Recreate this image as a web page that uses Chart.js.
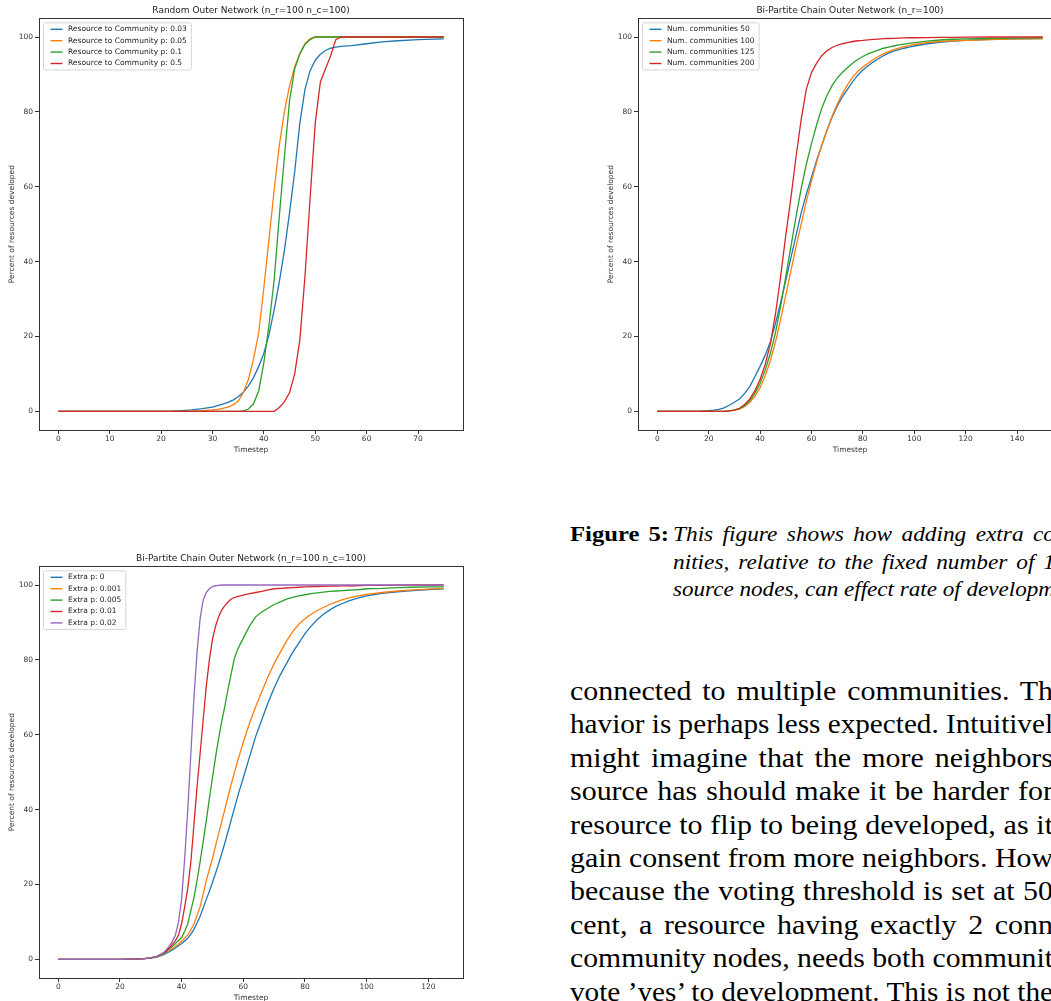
<!DOCTYPE html>
<html><head><meta charset="utf-8">
<script src="https://cdn.jsdelivr.net/npm/chart.js@4.4.0/dist/chart.umd.min.js"></script>
<style>
html,body{margin:0;padding:0;width:1051px;height:1001px;overflow:hidden;background:#fff;}
.cw{position:absolute;width:470px;height:460px;}
.cw canvas{display:block;}
.tl{position:absolute;font-family:"Liberation Serif",serif;color:#000;white-space:nowrap;}
.tl span{display:inline-block;white-space:nowrap;transform-origin:0 50%;}
#body .tl{font-size:28px;line-height:33.4px;height:33.4px;}
#cap .tl{font-size:22px;line-height:27.8px;height:27.8px;font-style:italic;}
#figlbl .tl{font-size:22px;line-height:27.8px;height:27.8px;font-weight:bold;}
</style>
</head><body>
<div class="cw" style="left:0;top:0"><canvas id="c1" width="470" height="460"></canvas></div>
<div class="cw" style="left:599px;top:0"><canvas id="c2" width="470" height="460"></canvas></div>
<div class="cw" style="left:0;top:548px"><canvas id="c3" width="470" height="460"></canvas></div>
<div id="figlbl"></div>
<div id="cap"></div>
<div id="body"></div>
<script>
// ---------- Chart 1: Random Outer Network ----------
const title1 = "Random Outer Network (n_r=100 n_c=100)";
const labels1 = ["Resource to Community p: 0.03","Resource to Community p: 0.05","Resource to Community p: 0.1","Resource to Community p: 0.5"];
const t1 = [0,20,22,24,26,28,30,31,32,33,34,35,36,37,38,39,40,41,42,43,44,45,46,47,48,49,50,51,52,53,54,55,57,60,63,66,70,75];
const p003 = [0,0,0.05,0.2,0.4,0.7,1.1,1.5,1.9,2.4,3.0,3.9,5.1,6.8,9.0,12,15.5,20.5,27,34.5,43,53,64,77,86,91,93.8,95.4,96.4,97.0,97.3,97.5,97.7,98.2,98.7,99.0,99.3,99.5];
const p005 = [0,0,0,0,0.05,0.15,0.35,0.5,0.75,1.1,1.7,2.7,5,8.5,14,21,33,46,59,71,80,87,92,95.5,98.2,99.6,100,100,100,100,100,100,100,100,100,100,100,100];
const p01  = [0,0,0,0,0,0,0,0,0,0,0,0,0.1,0.6,2,5.5,13,23,35,52,68,83,91.5,95.5,98,99.3,100,100,100,100,100,100,100,100,100,100,100,100];
const p05  = [0,0,0,0,0,0,0,0,0,0,0,0,0,0,0,0,0,0,0,1.0,2.5,5,10,19,36,57,77,88,91.5,95,99.3,100,100,100,100,100,100,100];
const xTicks1 = [0,10,20,30,40,50,60,70];

// ---------- Chart 2: Bi-Partite Chain (n_r=100) ----------
const title2 = "Bi-Partite Chain Outer Network (n_r=100)";
const labels2 = ["Num. communities 50","Num. communities 100","Num. communities 125","Num. communities 200"];
const t2 = [0,10,16,18,20,22,24,26,28,30,32,34,36,38,40,42,44,46,48,50,52,54,56,58,60,62,64,66,68,70,72,74,76,78,80,82,84,86,88,90,92,94,96,98,100,105,110,115,120,130,140,150];
const nc50  = [0,0,0,0.1,0.2,0.3,0.5,0.9,1.6,2.4,3.3,4.8,6.6,9.3,12,15,18.5,23.5,29,35,41,47,53,58,62.5,67,71,75,78.5,81.5,84,86,88,89.8,91.2,92.3,93.3,94.2,95,95.7,96.2,96.6,97,97.3,97.6,98.2,98.6,98.9,99.1,99.4,99.5,99.6];
const nc100 = [0,0,0,0,0,0,0,0,0.1,0.3,0.6,1.3,2.4,4,6.3,9.5,13.5,18.5,24.5,31,37.5,44,50,56,61.5,66.5,71,75,78.8,82,84.8,87.2,89.2,90.8,92,93,94,94.8,95.5,96.1,96.6,97,97.4,97.7,98,98.5,98.8,99,99.1,99.3,99.5,99.6];
const nc125 = [0,0,0,0,0,0,0,0,0.1,0.3,0.7,1.5,2.8,4.8,7.5,11,15.5,21,28,36,44,52,59.5,66,71.5,76.5,81,84.3,87,89,90.5,91.8,93,94,94.8,95.5,96,96.5,97,97.3,97.6,97.9,98.1,98.3,98.5,98.9,99.2,99.4,99.5,99.6,99.7,99.8];
const nc200 = [0,0,0,0,0,0,0,0,0.1,0.3,0.8,1.8,3.3,5.5,8.5,12.5,18,26,36,47,57,68,78,86,90.5,93,95,96.3,97.2,97.8,98.2,98.5,98.8,99,99.1,99.25,99.35,99.45,99.55,99.6,99.65,99.7,99.75,99.8,99.8,99.85,99.9,99.9,99.95,100,100,100];
const xTicks2 = [0,20,40,60,80,100,120,140];

// ---------- Chart 3: Bi-Partite Chain (n_r=100 n_c=100) ----------
const title3 = "Bi-Partite Chain Outer Network (n_r=100 n_c=100)";
const labels3 = ["Extra p: 0","Extra p: 0.001","Extra p: 0.005","Extra p: 0.01","Extra p: 0.02"];
const t3 = [0,10,20,24,26,28,30,32,34,35,36,37,38,39,40,41,42,43,44,45,46,47,48,49,50,51,52,53,54,55,56,57,58,59,60,62,64,66,68,70,72,74,76,78,80,82,84,86,88,90,92,94,96,98,100,105,110,115,120,125];
const ex0    = [0,0,0,0.05,0.1,0.2,0.3,0.6,1.2,1.6,2.0,2.5,3.0,3.6,4.2,4.9,5.6,6.7,8,9.7,11.5,13.7,16,18.2,20.5,23,25.5,28.2,31,34,37,40,43,45.8,48.5,54,59.5,64,68.5,72.5,76,79,82,84.5,87,89,90.8,92.2,93.3,94.3,95,95.7,96.2,96.7,97.1,97.8,98.2,98.5,98.8,99];
const ex0001 = [0,0,0,0.05,0.1,0.2,0.3,0.7,1.4,1.9,2.4,2.9,3.5,4.1,4.8,5.6,6.5,7.9,9.5,11.7,14,17.5,21,24,27,30.3,33.5,36.8,40,43.3,46.5,49.5,52.5,55.3,58,63,67.5,71.5,75.5,79,82,85,87.5,89.5,91,92.2,93.2,94,94.8,95.4,96,96.5,96.9,97.2,97.5,98,98.4,98.7,98.9,99.1];
const ex0005 = [0,0,0,0.05,0.1,0.2,0.4,0.8,1.5,2.1,2.8,3.5,4.2,5,5.8,7.5,9.5,13,16.5,21,26,31.5,37,43,48.5,54,59,63.5,67.5,72,76,80,82.5,84.2,85.8,89,91.5,92.8,93.8,94.8,95.5,96.2,96.7,97.1,97.4,97.7,97.9,98.1,98.3,98.4,98.5,98.6,98.7,98.8,99,99.1,99.3,99.4,99.5,99.5];
const ex001  = [0,0,0,0.05,0.1,0.2,0.4,0.8,1.6,2.2,3.0,4.0,5.0,6.5,9.5,14,19,26,36,46,55,64,73,80,85.5,89,91.5,93.3,94.5,95.4,96.2,96.6,96.9,97.1,97.3,97.7,98,98.3,98.7,99,99.1,99.2,99.3,99.4,99.5,99.55,99.6,99.65,99.7,99.7,99.75,99.8,99.8,99.85,99.9,99.9,99.95,100,100,100];
const ex002  = [0,0,0,0.05,0.1,0.2,0.4,0.8,1.7,2.5,3.5,4.8,6.5,10,16,27,40,55,70,82,91,96,98,99,99.6,99.8,99.9,100,100,100,100,100,100,100,100,100,100,100,100,100,100,100,100,100,100,100,100,100,100,100,100,100,100,100,100,100,100,100,100,100];
const xTicks3 = [0,20,40,60,80,100,120];

const yTicks = [0,20,40,60,80,100];
const yLabel = "Percent of resources developed";
const xLabel = "Timestep";
const colors = ["#1f77b4","#ff7f0e","#2ca02c","#d62728","#9467bd"];

// ---------- Text ----------
const figLabel = "Figure 5:";
const captionLines = [
  "This figure shows how adding extra co",
  "nities, relative to the fixed number of 1",
  "source nodes, can effect rate of developm"
];
const bodyLines = [
  "connected to multiple communities. Th",
  "havior is perhaps less expected. Intuitivel",
  "might imagine that the more neighbors",
  "source has should make it be harder for",
  "resource to flip to being developed, as it",
  "gain consent from more neighbors. How",
  "because the voting threshold is set at 50",
  "cent, a resource having exactly 2 conn",
  "community nodes, needs both communit",
  "vote \u2019yes\u2019 to development. This is not the"
];

const FONT = "'DejaVu Sans', sans-serif";
const TXT = "#333";

const framePlugin = {
  id: 'frameLegend',
  afterDraw(chart) {
    const {ctx, chartArea: a} = chart;
    ctx.save();
    ctx.strokeStyle = '#333';
    ctx.lineWidth = 1;
    ctx.strokeRect(Math.round(a.left) + 0.5, Math.round(a.top) + 0.5, Math.round(a.right - a.left), Math.round(a.bottom - a.top));
    const ds = chart.data.datasets;
    ctx.font = "7.5px " + FONT;
    let maxW = 0;
    ds.forEach(d => { maxW = Math.max(maxW, ctx.measureText(d.label).width); });
    const bx = a.left + 4.5, by = a.top + 4.5, rowH = 11.4;
    const bw = 24.5 + maxW + 4.5, bh = 13 + (ds.length - 1) * rowH;
    ctx.beginPath();
    if (ctx.roundRect) ctx.roundRect(bx, by, bw, bh, 2); else ctx.rect(bx, by, bw, bh);
    ctx.fillStyle = 'rgba(255,255,255,0.8)';
    ctx.fill();
    ctx.strokeStyle = '#d5d5d5';
    ctx.lineWidth = 1;
    ctx.stroke();
    ctx.textBaseline = 'middle';
    ctx.textAlign = 'left';
    ds.forEach((d, i) => {
      const cy = by + 6.5 + i * rowH;
      ctx.beginPath();
      ctx.moveTo(bx + 7, cy);
      ctx.lineTo(bx + 19, cy);
      ctx.strokeStyle = d.borderColor;
      ctx.lineWidth = 1.4;
      ctx.stroke();
      ctx.fillStyle = '#222';
      ctx.fillText(d.label, bx + 24.5, cy);
    });
    ctx.restore();
  }
};

function makeChart(id, title, xs, series, labels, xMin, xMax, xTicks) {
  const n = series.length;
  const datasets = series.map((vals, i) => ({
    label: labels[i],
    data: xs.map((t, j) => ({x: t, y: vals[j]})),
    borderColor: colors[i],
    backgroundColor: colors[i],
    borderWidth: 1.3,
    pointRadius: 0,
    tension: 0,
    fill: false,
    order: n - i
  }));
  const axisFont = {family: FONT, size: 7.5};
  return new Chart(document.getElementById(id), {
    type: 'line',
    data: {datasets},
    plugins: [framePlugin],
    options: {
      responsive: false,
      animation: false,
      devicePixelRatio: 1,
      layout: {padding: {left: 0, right: 7, top: 0, bottom: 0}},
      plugins: {
        legend: {display: false},
        tooltip: {enabled: false},
        title: {display: true, text: title, fullSize: false, color: '#222',
                font: {family: FONT, size: 9, weight: 'normal'}, padding: {top: 5.5, bottom: 2}}
      },
      scales: {
        x: {
          type: 'linear', min: xMin, max: xMax,
          afterBuildTicks: s => { s.ticks = xTicks.map(v => ({value: v})); },
          afterFit: s => { s.height = 30; },
          grid: {display: true, drawOnChartArea: false, drawTicks: true, tickLength: 4, color: '#333', lineWidth: 1},
          border: {display: false},
          ticks: {font: axisFont, color: TXT, padding: 1, maxRotation: 0, autoSkip: false},
          title: {display: true, text: xLabel, font: axisFont, color: TXT, padding: {top: 0, bottom: 5.5}}
        },
        y: {
          type: 'linear', min: -5, max: 105,
          afterBuildTicks: s => { s.ticks = yTicks.map(v => ({value: v})); },
          afterFit: s => { s.width = 39; },
          grid: {display: true, drawOnChartArea: false, drawTicks: true, tickLength: 4, color: '#333', lineWidth: 1},
          border: {display: false},
          ticks: {font: axisFont, color: TXT, padding: 2, autoSkip: false},
          title: {display: true, text: yLabel, font: axisFont, color: TXT, padding: {top: 7.5, bottom: 0}}
        }
      }
    }
  });
}

makeChart('c1', title1, t1, [p003, p005, p01, p05], labels1, -3.75, 78.75, xTicks1);
makeChart('c2', title2, t2, [nc50, nc100, nc125, nc200], labels2, -7.5, 157.5, xTicks2);
makeChart('c3', title3, t3, [ex0, ex0001, ex0005, ex001, ex002], labels3, -6.25, 131.25, xTicks3);

// ---------- page text (stretched to mimic the wider Palatino face) ----------
function addLines(containerId, lines, left, top, lh, target, maxScale) {
  const c = document.getElementById(containerId);
  lines.forEach((s, i) => {
    const d = document.createElement('div');
    d.className = 'tl';
    d.style.left = left + 'px';
    d.style.top = (top + i * lh) + 'px';
    const sp = document.createElement('span');
    sp.textContent = s;
    d.appendChild(sp);
    c.appendChild(d);
    const nSp = (s.match(/ /g) || []).length;
    const w = sp.getBoundingClientRect().width;
    const sc = Math.min(target / w, maxScale);
    sp.style.transform = 'scaleX(' + sc + ')';
    if (nSp) sp.style.wordSpacing = ((target - w * sc) / (nSp * sc)) + 'px';
  });
}
addLines('figlbl', [figLabel], 570, 519.7, 27.8, 99, 1.12);
addLines('cap', captionLines, 673, 519.7, 27.8, 382, 1.06);
addLines('body', bodyLines, 570, 673.9, 33.4, 483, 1.07);
</script>
</body></html>
